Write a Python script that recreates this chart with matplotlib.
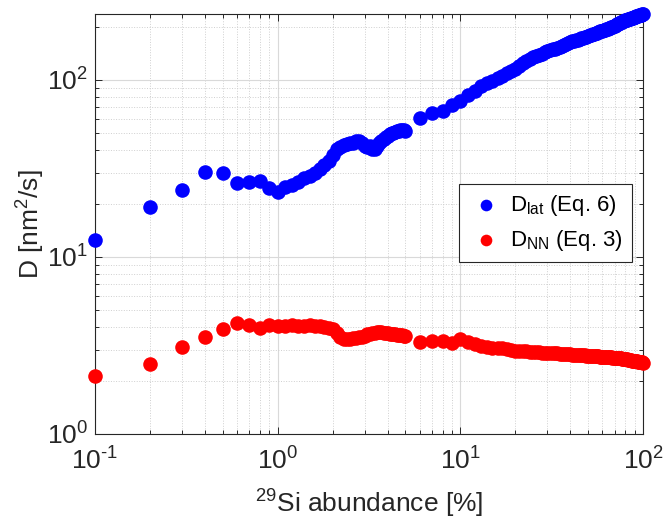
import numpy as np
import matplotlib.pyplot as plt
from matplotlib.ticker import LogLocator, NullFormatter, FuncFormatter

plt.rcParams['font.family'] = ['Liberation Sans', 'DejaVu Sans']
plt.rcParams['mathtext.fontset'] = 'custom'
plt.rcParams['mathtext.rm'] = 'Liberation Sans'
plt.rcParams['mathtext.it'] = 'Liberation Sans:italic'

# 29Si abundance [%]
abund_low = [round(0.1 * i, 1) for i in range(1, 51)]   # 0.1 ... 5.0
abund_high = list(range(6, 101))                          # 6 ... 100
abundance = abund_low + abund_high

# D_lat (Eq. 6) [nm^2/s]
d_lat_low = [12.5, 19.1, 23.9, 30.1, 30.0, 26.1, 26.6, 27.0, 24.4, 23.2,
             24.8, 25.5, 26.5, 27.8, 28.8, 30.0, 31.5, 33.0, 35.0, 37.5,
             40.5, 42.0, 43.0, 43.5, 43.8, 44.0, 45.0, 45.5, 44.0, 42.5,
             42.0, 42.5, 41.0, 41.0, 42.5, 44.0, 45.5, 46.5, 47.5, 48.5,
             49.5, 50.0, 50.5, 51.0, 51.5, 51.8, 52.0, 52.0, 52.0, 51.5]
d_lat_high = [61, 65, 67, 72, 76, 82, 87, 92, 96, 99,
              102, 105, 109, 112, 116, 120, 124, 128, 131, 134,
              137, 139, 141, 143, 145, 147, 149, 150, 152, 154,
              156, 158, 159, 161, 163, 165, 166, 168, 169, 171,
              172, 173, 175, 176, 177, 179, 180, 181, 183, 184,
              185, 186, 188, 189, 190, 191, 192, 193, 195, 196,
              197, 199, 200, 202, 203, 205, 206, 208, 209, 211,
              212, 213, 215, 216, 217, 218, 219, 220, 221, 222,
              223, 224, 225, 226, 227, 228, 229, 230, 231, 232,
              233, 233, 234, 235, 236]
d_lat = d_lat_low + d_lat_high

# D_NN (Eq. 3) [nm^2/s]
d_nn_low = [2.13, 2.48, 3.11, 3.52, 3.92, 4.25, 4.13, 3.95, 4.11, 4.05,
            4.05, 4.15, 4.10, 4.05, 4.15, 4.10, 4.05, 4.00, 3.95, 3.90,
            3.70, 3.55, 3.45, 3.42, 3.45, 3.50, 3.50, 3.52, 3.55, 3.60,
            3.65, 3.68, 3.70, 3.72, 3.75, 3.75, 3.75, 3.72, 3.70, 3.70,
            3.68, 3.66, 3.65, 3.65, 3.64, 3.63, 3.62, 3.62, 3.60, 3.60]
d_nn_high = [3.32, 3.37, 3.35, 3.27, 3.45, 3.33, 3.22, 3.13, 3.10, 3.08,
             3.06, 3.05, 3.03, 3.00, 2.96, 2.95, 2.94, 2.93, 2.92, 2.91,
             2.90, 2.89, 2.88, 2.88, 2.87, 2.86, 2.86, 2.85, 2.85, 2.84,
             2.84, 2.83, 2.83, 2.82, 2.82, 2.81, 2.81, 2.80, 2.80, 2.79,
             2.79, 2.78, 2.78, 2.77, 2.77, 2.77, 2.76, 2.76, 2.76, 2.75,
             2.75, 2.75, 2.74, 2.74, 2.73, 2.73, 2.73, 2.72, 2.72, 2.71,
             2.71, 2.71, 2.70, 2.70, 2.69, 2.69, 2.69, 2.68, 2.68, 2.67,
             2.67, 2.66, 2.66, 2.65, 2.65, 2.64, 2.64, 2.63, 2.62, 2.62,
             2.61, 2.60, 2.60, 2.59, 2.58, 2.58, 2.57, 2.57, 2.56, 2.56,
             2.55, 2.55, 2.54, 2.54, 2.53]
d_nn = d_nn_low + d_nn_high

dark = '#262626'


def pow10(v, pos):
    e = int(round(np.log10(v)))
    sign = r'\text{-}' if e < 0 else ''
    return r'$\mathdefault{10^{%s%d}}$' % (sign, abs(e))


fig = plt.figure(figsize=(6.63, 5.2), dpi=100)
ax = fig.add_axes([0.1433, 0.1654, 0.8265, 0.8077])

ax.scatter(abundance, d_lat, s=110, color='#0000FF', linewidths=0,
           label=r'D$_{\rm lat}$ (Eq. 6)', zorder=3, clip_on=False)
ax.scatter(abundance, d_nn, s=110, color='#FF0000', linewidths=0,
           label=r'D$_{\rm NN}$ (Eq. 3)', zorder=3, clip_on=False)

ax.set_xscale('log')
ax.set_yscale('log')
ax.set_xlim(0.1, 100)
ax.set_ylim(1, 236)

ax.xaxis.set_major_locator(LogLocator(base=10, numticks=10))
ax.yaxis.set_major_locator(LogLocator(base=10, numticks=10))
ax.xaxis.set_minor_locator(LogLocator(base=10, subs=np.arange(2, 10), numticks=20))
ax.yaxis.set_minor_locator(LogLocator(base=10, subs=np.arange(2, 10), numticks=20))
ax.xaxis.set_major_formatter(FuncFormatter(pow10))
ax.yaxis.set_major_formatter(FuncFormatter(pow10))
ax.xaxis.set_minor_formatter(NullFormatter())
ax.yaxis.set_minor_formatter(NullFormatter())

ax.grid(True, which='major', color='#d9d9d9', linewidth=0.8, linestyle='-')
ax.grid(True, which='minor', color='#cfcfcf', linewidth=0.7, linestyle=':')
ax.set_axisbelow(True)

ax.tick_params(which='both', direction='in', top=True, right=True, colors=dark,
               labelsize=19, width=0.7)
ax.tick_params(which='major', length=5)
ax.tick_params(which='minor', length=3)
ax.tick_params(axis='x', which='major', pad=10)
ax.tick_params(axis='y', which='major', pad=5)
for sp in ax.spines.values():
    sp.set_color(dark)
    sp.set_linewidth(0.8)

ax.set_xlabel(r'$^{29}$Si abundance [%]', fontsize=19, color=dark, labelpad=9)
ax.set_ylabel(r'D [nm$^2$/s]', fontsize=19, color=dark, labelpad=0)

leg = ax.legend(loc='upper right', bbox_to_anchor=(0.980, 0.595), fontsize=16,
                frameon=True, fancybox=False, edgecolor=dark, framealpha=1,
                handletextpad=0.3, borderpad=0.4, labelspacing=0.45,
                handlelength=1.6, markerscale=0.8, borderaxespad=0)
leg.get_frame().set_linewidth(0.8)

fig.savefig('out.png', dpi=100)
